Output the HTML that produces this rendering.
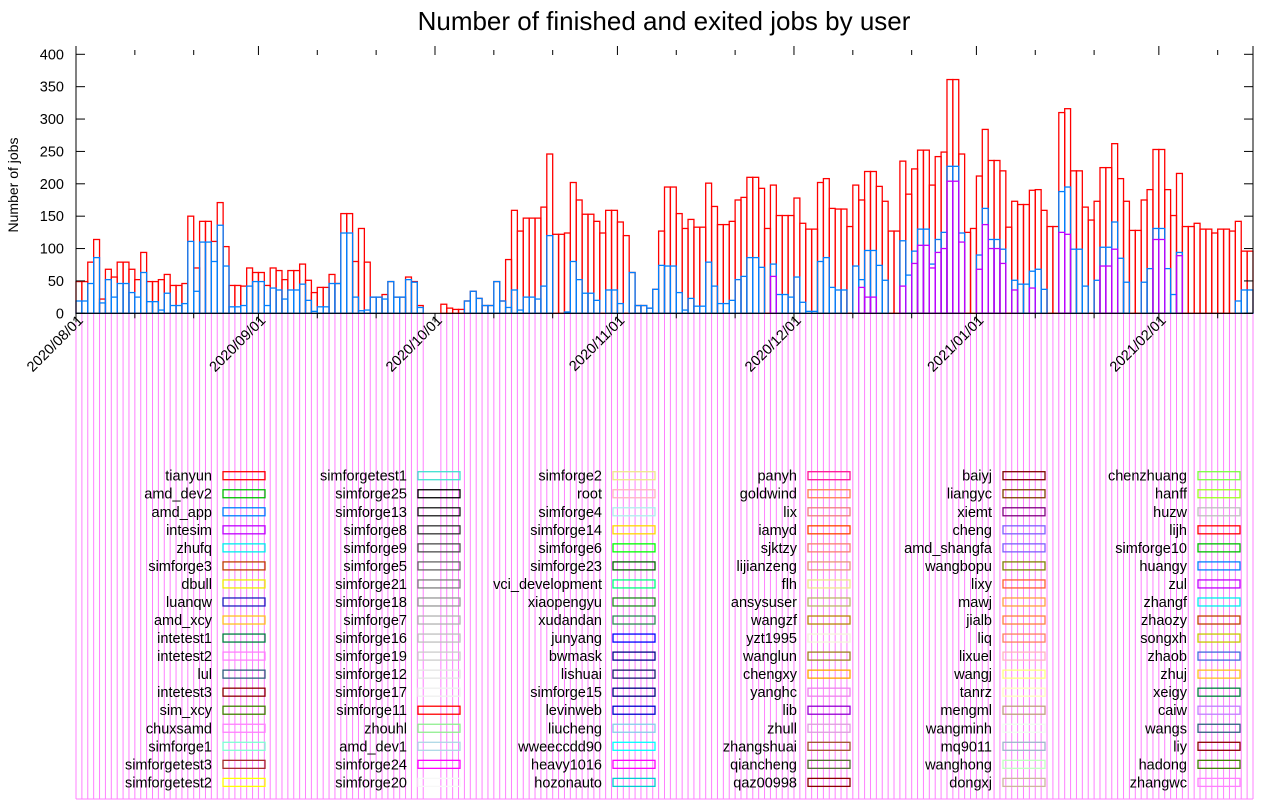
<!DOCTYPE html>
<html><head><meta charset="utf-8"><title>Number of finished and exited jobs by user</title>
<style>
html,body{margin:0;padding:0;background:#fff;}
svg{display:block;font-family:"Liberation Sans",sans-serif;}
</style></head>
<body>
<svg id="chart" width="1280" height="800" viewBox="0 0 1280 800" xmlns="http://www.w3.org/2000/svg">
<g id="magenta"></g>
<g id="bars"></g>
<g id="axes"></g>
<g id="legend"></g>
<text x="664" y="30" text-anchor="middle" font-size="26">Number of finished and exited jobs by user</text>
<text transform="translate(18,185) rotate(-90)" text-anchor="middle" font-size="14">Number of jobs</text>
</svg>
<script>
// days since 2020/08/01
const red = [49,49,79,114,22,68,56,79,79,68,
52,94,49,49,52,60,43,43,46,150,
70,142,142,111,171,103,43,43,42,70,
63,63,43,70,66,52,66,66,76,51,
32,40,40,60,46,154,154,80,131,79,
25,25,29,49,25,25,56,49,12,0,
0,0,14,8,6,6,19,34,23,12,
12,49,19,83,159,127,147,147,147,164,
246,122,122,124,202,175,153,153,142,124,
159,159,141,120,63,12,12,8,37,127,
195,195,154,131,145,133,133,201,165,137,
137,142,175,179,210,210,193,131,198,151,
151,151,178,139,130,130,202,208,162,161,
161,134,198,175,219,219,196,173,127,127,
235,184,223,252,252,198,242,249,361,361,
246,125,131,212,284,236,236,220,133,173,
168,168,190,191,159,134,134,310,316,220,
220,164,144,173,225,225,262,208,173,128,
128,175,191,253,253,191,151,216,134,134,
139,130,130,124,130,130,127,142,96,96];
const blue = [19,19,46,86,16,52,25,46,46,32,
25,63,18,18,5,31,12,12,15,111,
34,110,110,80,136,73,10,10,12,42,
49,49,12,39,36,22,36,36,45,20,
3,10,10,46,46,124,124,25,4,5,
25,25,22,49,25,25,52,48,9,0,
0,0,0,0,0,0,19,34,23,12,
12,49,19,9,36,5,25,25,22,42,
120,0,0,2,80,52,31,31,20,0,
36,36,15,0,63,12,12,8,37,74,
73,73,32,5,23,11,11,79,42,15,
15,20,52,57,86,86,71,0,76,29,
29,25,56,17,3,3,80,86,40,36,
36,0,73,52,97,97,74,51,0,0,
112,59,96,130,130,76,114,125,227,227,
124,0,0,90,162,114,114,99,0,51,
45,45,65,68,37,0,0,188,195,99,
99,42,0,51,102,102,141,85,48,0,
0,48,69,131,131,69,29,94,0,0,
0,0,0,0,0,0,0,19,36,36];
const purple = [0,0,0,0,0,0,0,0,0,0, 0,0,0,0,0,0,0,0,0,0,
0,0,0,0,0,0,0,0,0,0, 0,0,0,0,0,0,0,0,0,0,
0,0,0,0,0,0,0,0,0,0, 0,0,0,0,0,0,0,0,0,0,
0,0,0,0,0,0,0,0,0,0, 0,0,0,0,0,0,0,0,0,0,
0,0,0,0,0,0,0,0,0,0, 0,0,0,0,0,0,0,0,0,0,
0,0,0,0,0,0,0,0,0,0,
0,0,0,0,0,0,0,0,57,0,
0,0,0,0,0,0,0,0,0,0,
0,0,0,40,25,25,0,0,0,0,
42,0,77,105,105,70,94,100,204,204,
110,0,0,68,137,100,100,77,0,36,
0,0,39,0,0,0,0,125,122,0,
0,0,0,0,73,73,99,0,0,0,
0,0,0,114,114,0,0,89,0,0,
0,0,0,0,0,0,0,0,0,0];
const yTicks = [0,50,100,150,200,250,300,350,400];
const monthLabels = ["2020/08/01","2020/09/01","2020/10/01","2020/11/01","2020/12/01","2021/01/01","2021/02/01"];
const monthDays = [0,31,61,92,122,153,184];
const minorDays = [10,20,41,51,71,81,102,112,132,142,163,173,194];
const legendNames = [
["tianyun","amd_dev2","amd_app","intesim","zhufq","simforge3","dbull","luanqw","amd_xcy","intetest1","intetest2","lul","intetest3","sim_xcy","chuxsamd","simforge1","simforgetest3","simforgetest2"],
["simforgetest1","simforge25","simforge13","simforge8","simforge9","simforge5","simforge21","simforge18","simforge7","simforge16","simforge19","simforge12","simforge17","simforge11","zhouhl","amd_dev1","simforge24","simforge20"],
["simforge2","root","simforge4","simforge14","simforge6","simforge23","vci_development","xiaopengyu","xudandan","junyang","bwmask","lishuai","simforge15","levinweb","liucheng","wweeccdd90","heavy1016","hozonauto"],
["panyh","goldwind","lix","iamyd","sjktzy","lijianzeng","flh","ansysuser","wangzf","yzt1995","wanglun","chengxy","yanghc","lib","zhull","zhangshuai","qiancheng","qaz00998"],
["baiyj","liangyc","xiemt","cheng","amd_shangfa","wangbopu","lixy","mawj","jialb","liq","lixuel","wangj","tanrz","mengml","wangminh","mq9011","wanghong","dongxj"],
["chenzhuang","hanff","huzw","lijh","simforge10","huangy","zul","zhangf","zhaozy","songxh","zhaob","zhuj","xeigy","caiw","wangs","liy","hadong","zhangwc"]];
const legendColors = [
["#ff0000","#00c000","#0080ff","#c000ff","#00eeee","#c04000","#eeee00","#2020c0","#ffc020","#008040","#ff80ff","#306080","#8b0000","#408000","#ff80ff","#7fffd4","#a52a2a","#ffff00"],
["#40e0d0","#000000","#1a1a1a","#333333","#4d4d4d","#666666","#7f7f7f","#999999","#b3b3b3","#c0c0c0","#cccccc","#e5e5e5","#f0f0f0","#ff0000","#90ee90","#add8e6","#ff00ff","#f8f8f8"],
["#f0e68c","#ffb6c1","#afeeee","#ffd700","#00ff00","#006400","#00ff7f","#228b22","#2e8b57","#0000ff","#00008b","#191970","#000080","#0000cd","#87ceeb","#00ffff","#ff00ff","#00ced1"],
["#ff1493","#ff7f50","#f08080","#ff4500","#fa8072","#e9967a","#f0e68c","#bdb76b","#b8860b","#f5f5dc","#a08020","#ffa500","#ee82ee","#9400d3","#dda0dd","#a0522d","#556b2f","#8b0000"],
["#800000","#804000","#800080","#8060ff","#7f5fff","#808000","#ff6030","#ffa040","#ff8040","#ff8060","#ffb6c1","#ffff80","#ffffc0","#c0a080","#f0fff0","#a0b6cd","#c1ffc1","#cdb79e"],
["#7cff40","#a0ff20","#c0c0c0","#ff0000","#00c000","#0080ff","#c000ff","#00eeee","#c04000","#c8c800","#4169e1","#ffc020","#008040","#c080ff","#306080","#8b0000","#408000","#ff80ff"]];

const NS="http://www.w3.org/2000/svg";
const X0=76, X1=1253, Y0=313.3, KY=0.6475, NDAYS=200;
const DW=(X1-X0)/NDAYS;
function xs(d){return X0+d*DW;}
function ys(v){return Y0-v*KY;}
function mk(tag,attrs,parent){const e=document.createElementNS(NS,tag);for(const k in attrs)e.setAttribute(k,attrs[k]);parent.appendChild(e);return e;}

const mg=document.getElementById('magenta');
for(let d=0;d<=NDAYS;d++){
  if(d<NDAYS && red[d]===0 && (d===0||red[d-1]===0)) continue;
  const l=mk('line',{x1:xs(d),x2:xs(d),y1:Y0,y2:799,stroke:"#ff80ff","stroke-width":1},mg);
  
  
}
const bl=mk('line',{x1:X0,x2:X1,y1:799,y2:799,stroke:"#ff80ff","stroke-width":1},mg);



const bg=document.getElementById('bars');
function drawSeries(arr,color,name){
  for(let d=0;d<arr.length;d++){
    if(!arr[d])continue;
    const r=mk('rect',{x:xs(d),y:ys(arr[d]),width:DW,height:arr[d]*KY,fill:"none",stroke:color,"stroke-width":1.3},bg);
    
    
  }
}
drawSeries(red,"#ff0000","tianyun");
drawSeries(blue,"#0080ff","amd-app");
drawSeries(purple,"#c000ff","intesim");

const ax=document.getElementById('axes');
mk('line',{x1:X0,x2:X0,y1:46,y2:Y0,stroke:"#000","stroke-width":1},ax);
mk('line',{x1:X1,x2:X1,y1:46,y2:Y0,stroke:"#000","stroke-width":1},ax);
mk('line',{x1:X0,x2:X1,y1:Y0,y2:Y0,stroke:"#000","stroke-width":1.2},ax);
for(const t of yTicks){
  mk('line',{x1:X0,x2:X0+9,y1:ys(t),y2:ys(t),stroke:"#000"},ax);
  mk('line',{x1:X1-9,x2:X1,y1:ys(t),y2:ys(t),stroke:"#000"},ax);
  const tx=mk('text',{x:64,y:ys(t)+5,"text-anchor":"end","font-size":14.5},ax);
  tx.textContent=t;
  
  
}
monthDays.forEach((d,i)=>{
  const x=xs(d);
  mk('line',{x1:x,x2:x,y1:46,y2:55,stroke:"#000"},ax);
  mk('line',{x1:x,x2:x,y1:Y0,y2:Y0+9,stroke:"#000"},ax);
  const tx=mk('text',{transform:`translate(${x+8},${Y0+8}) rotate(-45)`,"text-anchor":"end","font-size":14.5},ax);
  tx.textContent=monthLabels[i];
  
  
});
for(const d of minorDays){
  const x=xs(d);
  mk('line',{x1:x,x2:x,y1:50,y2:55,stroke:"#000"},ax);
  mk('line',{x1:x,x2:x,y1:Y0,y2:Y0+5,stroke:"#000"},ax);
}

const lg=document.getElementById('legend');
legendNames.forEach((col,c)=>{
  col.forEach((nm,r)=>{
    const bx=223+c*195, cy=475.7+r*18.04;
    const t=mk('text',{x:bx-11,y:cy+5,"text-anchor":"end","font-size":14.5},lg);
    t.textContent=nm;
    
    
    const b=mk('rect',{x:bx,y:cy-4,width:42,height:8,fill:"none",stroke:legendColors[c][r],"stroke-width":1.3},lg);
    
    
  });
});
</script>
</body></html>
